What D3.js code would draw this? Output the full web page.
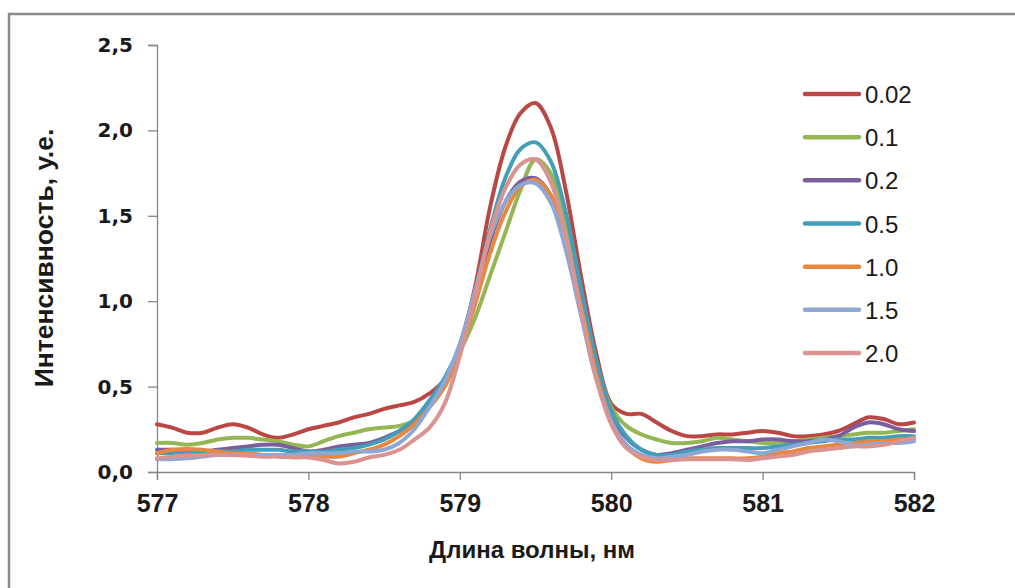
<!DOCTYPE html>
<html>
<head>
<meta charset="utf-8">
<script src="https://cdn.jsdelivr.net/npm/d3@7"></script>
<style>
html,body{margin:0;padding:0;background:#fff;}
svg{display:block;}
</style>
</head>
<body>
<svg id="chart" width="1015" height="588"></svg>
<script>
// ---- data ----
const wavelengths = d3.range(0, 51).map(i => +(577 + i * 0.1).toFixed(1));
const xTicks = [577, 578, 579, 580, 581, 582];
const yTicks = [0, 0.5, 1.0, 1.5, 2.0, 2.5];
const yTickLabels = ["0,0", "0,5", "1,0", "1,5", "2,0", "2,5"];
const seriesNames = ["0.02", "0.1", "0.2", "0.5", "1.0", "1.5", "2.0"];
const seriesColors = ["#BA4744", "#94B653", "#7A5E9E", "#439FB9", "#E8873D", "#8EA8D5", "#D99391"];

const s002 = [0.28,0.26,0.23,0.23,0.26,0.28,0.26,0.22,0.20,0.22,
              0.25,0.27,0.29,0.32,0.34,0.37,0.39,0.41,0.46,0.54,
              0.74,1.08,1.55,1.90,2.10,2.16,2.02,1.65,1.15,0.70,
              0.40,0.34,0.34,0.29,0.24,0.21,0.21,0.22,0.22,0.23,
              0.24,0.23,0.21,0.21,0.22,0.24,0.28,0.32,0.31,0.28,0.29];
const s01  = [0.17,0.17,0.16,0.17,0.19,0.20,0.20,0.19,0.18,0.16,
              0.15,0.18,0.21,0.23,0.25,0.26,0.27,0.30,0.38,0.50,
              0.70,0.90,1.15,1.40,1.65,1.83,1.75,1.45,1.05,0.65,
              0.38,0.27,0.22,0.19,0.17,0.17,0.18,0.20,0.19,0.18,
              0.17,0.17,0.18,0.19,0.20,0.21,0.22,0.23,0.23,0.24,0.25];
const s02  = [0.13,0.13,0.12,0.12,0.13,0.14,0.15,0.16,0.16,0.14,
              0.12,0.13,0.15,0.16,0.17,0.20,0.24,0.30,0.40,0.52,
              0.72,1.02,1.35,1.58,1.70,1.72,1.62,1.35,0.98,0.60,
              0.33,0.20,0.13,0.10,0.11,0.13,0.15,0.17,0.18,0.18,
              0.19,0.19,0.18,0.18,0.19,0.21,0.26,0.29,0.28,0.25,0.24];
const s05  = [0.11,0.11,0.12,0.12,0.12,0.12,0.13,0.13,0.13,0.12,
              0.12,0.12,0.13,0.14,0.16,0.19,0.24,0.31,0.42,0.55,
              0.74,1.05,1.42,1.72,1.89,1.93,1.82,1.52,1.08,0.66,
              0.36,0.21,0.13,0.10,0.10,0.12,0.13,0.14,0.14,0.14,
              0.14,0.15,0.16,0.17,0.18,0.19,0.19,0.20,0.20,0.21,0.21];
const s10  = [0.11,0.13,0.135,0.13,0.12,0.11,0.11,0.10,0.10,0.09,
              0.09,0.09,0.09,0.11,0.13,0.16,0.21,0.28,0.38,0.50,
              0.70,0.98,1.28,1.52,1.67,1.71,1.62,1.35,0.97,0.58,
              0.30,0.15,0.08,0.06,0.07,0.08,0.08,0.08,0.08,0.08,
              0.09,0.11,0.12,0.14,0.15,0.16,0.17,0.18,0.18,0.19,0.19];
const s15  = [0.075,0.075,0.08,0.09,0.10,0.10,0.10,0.10,0.10,0.10,
              0.11,0.11,0.11,0.12,0.12,0.13,0.17,0.25,0.38,0.53,
              0.75,1.06,1.38,1.58,1.68,1.69,1.58,1.30,0.92,0.55,
              0.30,0.16,0.10,0.08,0.09,0.10,0.12,0.13,0.13,0.12,
              0.11,0.13,0.15,0.17,0.19,0.18,0.16,0.16,0.17,0.17,0.18];
const s20  = [0.08,0.09,0.095,0.10,0.10,0.10,0.095,0.09,0.09,0.085,
              0.085,0.07,0.05,0.06,0.085,0.10,0.13,0.19,0.26,0.40,
              0.68,1.02,1.40,1.66,1.80,1.83,1.70,1.38,0.95,0.55,
              0.28,0.14,0.09,0.07,0.07,0.075,0.075,0.075,0.075,0.07,
              0.08,0.09,0.10,0.12,0.13,0.14,0.15,0.15,0.16,0.18,0.20];

const seriesValues = [s002, s01, s02, s05, s10, s15, s20];

// ---- drawing ----
const svg = d3.select("#chart");

// outer frame
svg.append("rect")
  .attr("x", 9).attr("y", 14).attr("width", 1020).attr("height", 600)
  .attr("fill", "none").attr("stroke", "#8a8a8a").attr("stroke-width", 2.5);

const x = d3.scaleLinear().domain([577, 582]).range([157, 914]);
const y = d3.scaleLinear().domain([0, 2.5]).range([472, 45]);

const axisColor = "#868686";

// y axis
const yAxis = d3.axisLeft(y).tickValues(yTicks)
  .tickFormat((d, i) => yTickLabels[i]).tickSize(9).tickPadding(15);
const gy = svg.append("g").attr("transform", "translate(157,0)").call(yAxis);
gy.select(".domain").attr("stroke", axisColor).attr("stroke-width", 1.3);
gy.selectAll(".tick line").attr("stroke", axisColor).attr("stroke-width", 1.3);
gy.selectAll(".tick text")
  .attr("font-family", "'DejaVu Sans', Verdana, sans-serif")
  .attr("font-weight", "bold").attr("font-size", 20).attr("fill", "#1a1a1a");

// x axis
const xAxis = d3.axisBottom(x).tickValues(xTicks).tickFormat(d3.format("d"))
  .tickSize(8).tickPadding(14);
const gx = svg.append("g").attr("transform", "translate(0,472)").call(xAxis);
gx.select(".domain").attr("stroke", axisColor).attr("stroke-width", 1.3);
gx.selectAll(".tick line").attr("stroke", axisColor).attr("stroke-width", 1.3);
gx.selectAll(".tick text")
  .attr("font-family", "'Liberation Sans', Arial, sans-serif")
  .attr("font-weight", "bold").attr("font-size", 25).attr("fill", "#1a1a1a");

// axis titles
svg.append("text")
  .attr("x", 532).attr("y", 558).attr("text-anchor", "middle")
  .attr("font-family", "'Liberation Sans', Arial, sans-serif")
  .attr("font-weight", "bold").attr("font-size", 24).attr("fill", "#1a1a1a")
  .text("Длина волны, нм");

svg.append("text")
  .attr("transform", "translate(53,258) rotate(-90)")
  .attr("text-anchor", "middle")
  .attr("font-family", "'Liberation Sans', Arial, sans-serif")
  .attr("font-weight", "bold").attr("font-size", 26.5).attr("fill", "#1a1a1a")
  .text("Интенсивность, у.е.");

// lines
const line = d3.line()
  .x((d, i) => x(wavelengths[i]))
  .y(d => y(d))
  .curve(d3.curveCatmullRom.alpha(0.5));

svg.append("g").selectAll("path")
  .data(seriesValues)
  .join("path")
  .attr("d", d => line(d))
  .attr("fill", "none")
  .attr("stroke", (d, i) => seriesColors[i])
  .attr("stroke-width", 4)
  .attr("stroke-linejoin", "round")
  .attr("stroke-linecap", "round");

// legend
const legendY = d3.scalePoint().domain(seriesNames).range([94, 353]);
const lg = svg.append("g");
const item = lg.selectAll("g").data(seriesNames).join("g")
  .attr("transform", d => `translate(0,${legendY(d)})`);
item.append("line")
  .attr("x1", 805).attr("x2", 859).attr("y1", 0).attr("y2", 0)
  .attr("stroke", (d, i) => seriesColors[i]).attr("stroke-width", 4.5)
  .attr("stroke-linecap", "round");
item.append("text")
  .attr("x", 865).attr("y", 9)
  .attr("font-family", "'Liberation Sans', Arial, sans-serif")
  .attr("font-size", 24).attr("fill", "#1a1a1a")
  .text(d => d);
</script>
</body>
</html>
